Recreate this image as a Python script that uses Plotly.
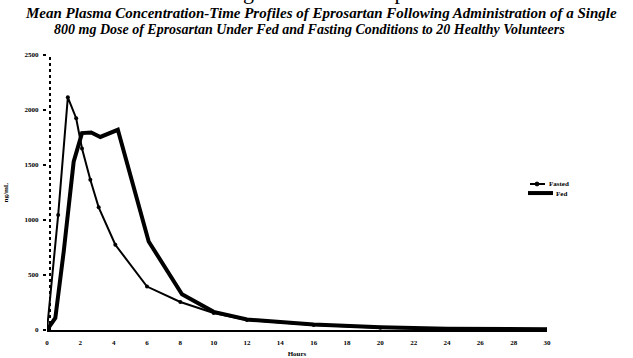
import plotly.graph_objects as go

# Mean plasma concentration (ng/mL) by time after dosing (hours)
fasted_hours = [0, 0.67, 1.25, 1.75, 2.1, 2.6, 3.1, 4.1, 6, 8, 10, 12, 16, 20, 24, 30]
fasted_conc = [0, 1045, 2115, 1925, 1650, 1365, 1115, 775, 395, 255, 155, 90, 45, 20, 10, 5]

fed_hours = [0, 0.5, 1, 1.6, 2.1, 2.65, 3.2, 4.25, 6.1, 8.1, 10, 12, 16, 20, 24, 30]
fed_conc = [0, 110, 710, 1530, 1790, 1795, 1755, 1820, 805, 325, 165, 95, 50, 25, 12, 6]

x_ticks = list(range(0, 31, 2))
y_ticks = [0, 500, 1000, 1500, 2000, 2500]

title_1 = "Mean Plasma Concentration-Time Profiles of Eprosartan Following Administration of a Single"
title_2 = "800 mg Dose of Eprosartan Under Fed and Fasting Conditions to 20 Healthy Volunteers"
page_line = "a single oral dose of eprosartan in fed a"

serif = "Liberation Serif, Times New Roman, serif"
tick_font = dict(family=serif, size=7, color="black", weight="bold")
small_font = dict(family=serif, size=7, color="black", weight="bold")

fig = go.Figure()
fig.add_trace(go.Scatter(
    x=fasted_hours, y=fasted_conc, name="Fasted", mode="lines+markers",
    line=dict(color="black", width=2), marker=dict(color="black", size=4),
    showlegend=False,
))
fig.add_trace(go.Scatter(
    x=fed_hours, y=fed_conc, name="Fed", mode="lines",
    line=dict(color="black", width=4),
    showlegend=False,
))

# dotted vertical axis
fig.add_shape(type="line", xref="paper", yref="paper", x0=0.006, x1=0.006, y0=0, y1=1,
              line=dict(color="black", width=2, dash="dot"))

# compact key at the right
fig.add_shape(type="line", xref="paper", yref="paper", x0=0.966, x1=0.996, y0=0.531, y1=0.531,
              line=dict(color="black", width=2))
fig.add_shape(type="circle", xref="paper", yref="paper", x0=0.976, x1=0.984, y0=0.524, y1=0.538,
              fillcolor="black", line=dict(color="black", width=1))
fig.add_annotation(text="Fasted", xref="paper", yref="paper", x=1.0, y=0.531,
                   xanchor="left", yanchor="middle", showarrow=False, font=small_font)
fig.add_shape(type="line", xref="paper", yref="paper", x0=0.962, x1=1.012, y0=0.498, y1=0.498,
              line=dict(color="black", width=4))
fig.add_annotation(text="Fed", xref="paper", yref="paper", x=1.013, y=0.495,
                   xanchor="left", yanchor="middle", showarrow=False, font=small_font)

fig.add_annotation(text=title_1, xref="paper", yref="paper", x=-0.048, y=1.152,
                   xanchor="left", yanchor="middle", showarrow=False,
                   font=dict(family=serif, size=15, color="black", weight="bold", style="italic"))
fig.add_annotation(text=title_2, xref="paper", yref="paper", x=0.01, y=1.094,
                   xanchor="left", yanchor="middle", showarrow=False,
                   font=dict(family=serif, size=14, color="black", weight="bold", style="italic"))
fig.add_annotation(text=page_line, xref="paper", yref="paper", x=0.306, y=1.178,
                   xanchor="left", yanchor="bottom", showarrow=False,
                   font=dict(family=serif, size=22, color="black"))

fig.update_layout(
    width=633, height=358,
    margin=dict(l=47, r=86, t=55, b=28),
    paper_bgcolor="white", plot_bgcolor="white",
    showlegend=False,
    xaxis=dict(range=[0, 30], tickvals=x_ticks, ticktext=[str(v) for v in x_ticks],
               showline=True, linecolor="black", linewidth=2, ticks="",
               showgrid=False, zeroline=False, tickfont=tick_font, ticklabelstandoff=5,
               automargin=False,
               title=dict(text="Hours", font=small_font)),
    yaxis=dict(range=[0, 2500], tickvals=y_ticks, ticktext=[str(v) for v in y_ticks],
               showline=False, ticks="outside", ticklen=3, tickwidth=2, tickcolor="black",
               showgrid=False, zeroline=False, tickfont=tick_font, ticklabelstandoff=3,
               automargin=False,
               title=dict(text="ng/mL", font=small_font)),
)

fig.write_html("out.html")
